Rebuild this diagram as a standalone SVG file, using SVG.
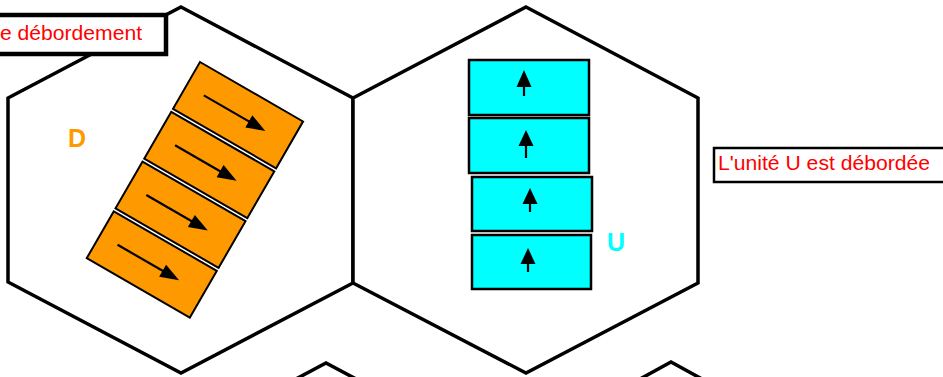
<svg xmlns="http://www.w3.org/2000/svg" width="943" height="377" viewBox="0 0 943 377">
  <style>
    .hex { fill: #ffffff; stroke: #000000; stroke-width: 3.5; stroke-linejoin: miter; }
    .part { fill: none; stroke: #000000; stroke-width: 3.5; }
    .orange { fill: #FF9900; stroke: #000000; stroke-width: 2; }
    .cyan { fill: #00FFFF; stroke: #000000; stroke-width: 2.5; }
    .shaft { stroke: #000000; stroke-width: 2.2; fill: none; }
    .head { fill: #000000; stroke: none; }
    .label { fill: #ffffff; stroke: #000000; }
    .red { fill: #FF0000; font-family: "Liberation Sans", Arial, sans-serif; }
    .unit { font-family: "Liberation Sans", Arial, sans-serif; font-weight: bold; font-size: 25px; }
  </style>
  <rect x="0" y="0" width="943" height="377" fill="#ffffff"/>

  <g id="hex-left">
    <polygon class="hex" points="181,7 353,98 353,283 181,373 8,282 8,98"/>
  </g>
  <g id="hex-right">
    <polygon class="hex" points="526,7 698,98 698,283 526,373 353,283 353,98"/>
  </g>
  <g id="hex-bottom-left">
    <polyline class="part" points="294,380 326,363 358,380"/>
  </g>
  <g id="hex-bottom-right">
    <polyline class="part" points="640,379 671,362 702,379"/>
  </g>

  <g id="unit-D">
    <g transform="translate(200,62) rotate(30)">
      <rect class="orange" x="0" y="0" width="119" height="54"/>
      <rect class="orange" x="0" y="57.5" width="119" height="54"/>
      <rect class="orange" x="0" y="115" width="119" height="54"/>
      <rect class="orange" x="0" y="172.5" width="119" height="54"/>
      <g id="D-arrows">
        <line class="shaft" x1="20" y1="27" x2="76" y2="27"/>
        <polygon class="head" points="72,20 91,27 72,34"/>
        <line class="shaft" x1="20" y1="84.5" x2="76" y2="84.5"/>
        <polygon class="head" points="72,77.5 91,84.5 72,91.5"/>
        <line class="shaft" x1="20" y1="142" x2="76" y2="142"/>
        <polygon class="head" points="72,135 91,142 72,149"/>
        <line class="shaft" x1="20" y1="199.5" x2="76" y2="199.5"/>
        <polygon class="head" points="72,192.5 91,199.5 72,206.5"/>
      </g>
    </g>
    <text class="unit" x="68" y="147" fill="#FF9900">D</text>
  </g>

  <g id="unit-U">
    <rect class="cyan" x="469" y="60" width="120" height="55"/>
    <rect class="cyan" x="469" y="118" width="120" height="55"/>
    <rect class="cyan" x="472" y="177" width="120" height="54"/>
    <rect class="cyan" x="472" y="235" width="119" height="54"/>
    <g id="U-arrows">
      <line class="shaft" x1="524" y1="85" x2="524" y2="96"/>
      <polygon class="head" points="524,70 531.5,87 516.5,87"/>
      <line class="shaft" x1="526" y1="144" x2="526" y2="158"/>
      <polygon class="head" points="526,130 533.5,146 518.5,146"/>
      <line class="shaft" x1="530" y1="202" x2="530" y2="212"/>
      <polygon class="head" points="530,188 537.5,204 522.5,204"/>
      <line class="shaft" x1="528" y1="262" x2="528" y2="272"/>
      <polygon class="head" points="528,248 535.5,264 520.5,264"/>
    </g>
    <text class="unit" x="607" y="251" fill="#00FFFF">U</text>
  </g>

  <g id="label-D">
    <rect class="label" x="-10" y="15" width="176" height="39" stroke-width="4.5"/>
    <text class="red" x="0" y="40" font-size="20" textLength="142" lengthAdjust="spacingAndGlyphs">e débordement</text>
  </g>

  <g id="label-U">
    <rect class="label" x="714" y="148" width="240" height="34" stroke-width="2.5"/>
    <text class="red" x="718" y="170" font-size="20" textLength="212" lengthAdjust="spacingAndGlyphs">L'unité U est débordée</text>
  </g>

  <g id="connectors"/>
</svg>
